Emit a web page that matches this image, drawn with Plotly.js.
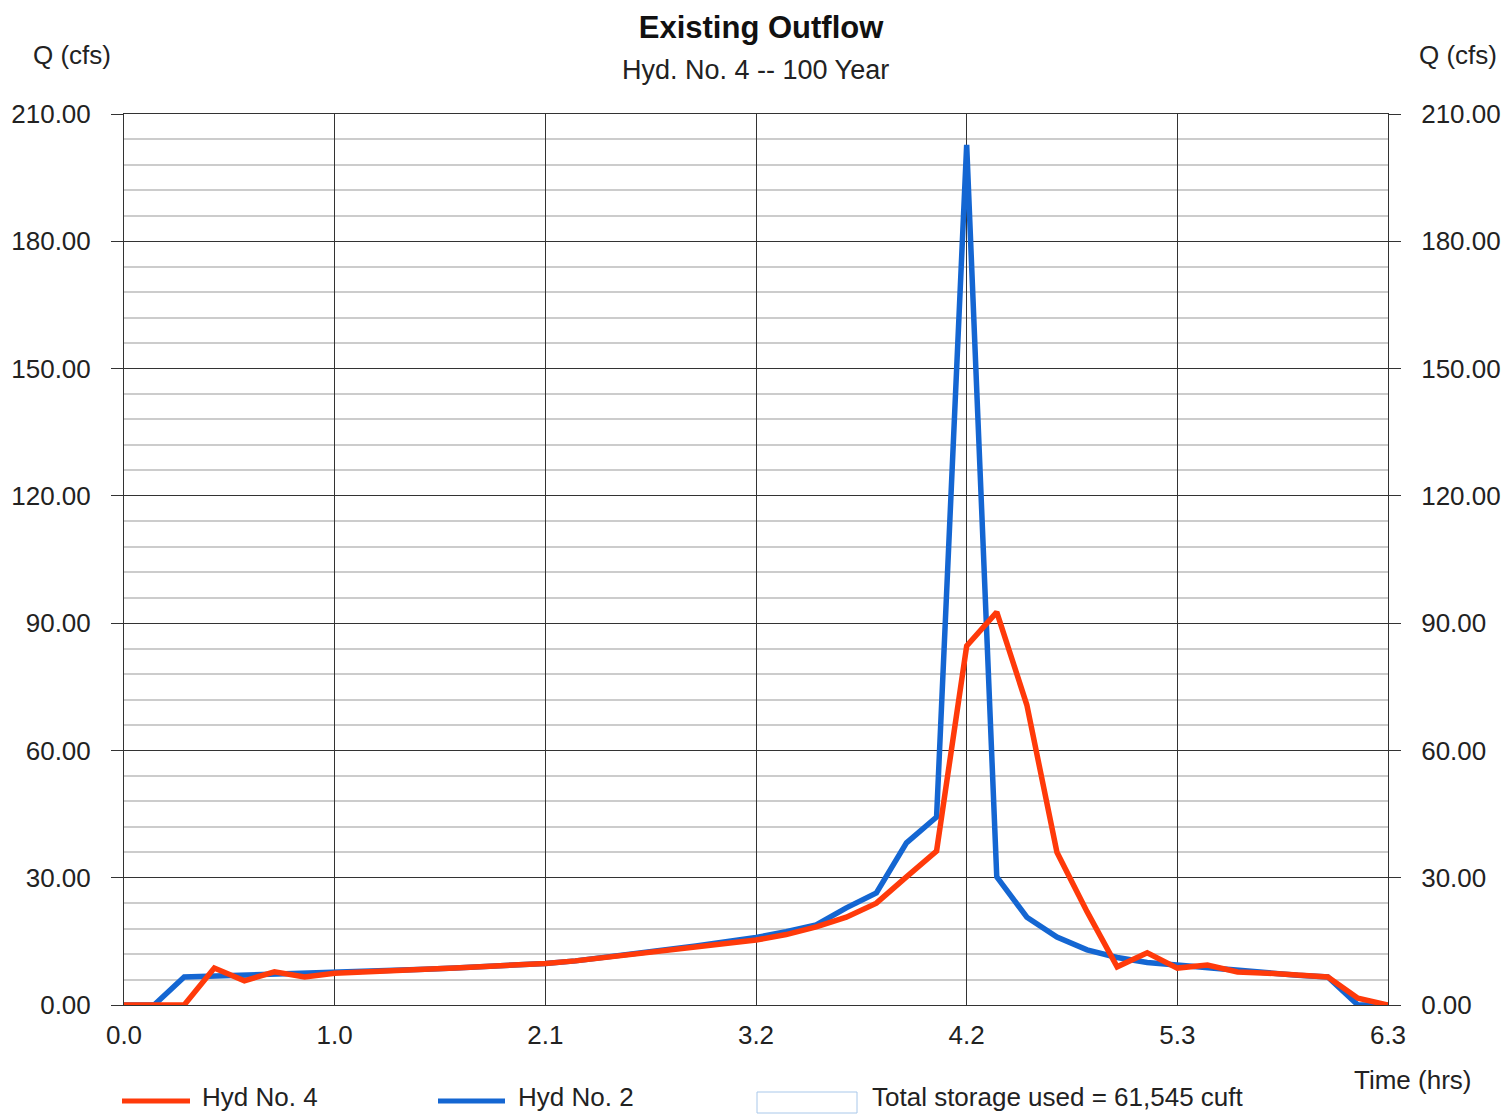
<!DOCTYPE html>
<html>
<head>
<meta charset="utf-8">
<script src="https://cdn.plot.ly/plotly-3.0.1.min.js"></script>
<style>
html,body{margin:0;padding:0;background:#fff;}
#chart{width:1502px;height:1114px;}
</style>
</head>
<body>
<div id="chart"></div>
<script>
// Time (hrs)
const timeHrs = [0.00,0.15,0.30,0.45,0.60,0.75,0.90,1.05,1.20,1.35,1.50,1.65,1.80,1.95,2.10,2.25,2.40,2.55,2.70,2.85,3.00,3.15,3.30,3.45,3.60,3.75,3.90,4.05,4.20,4.35,4.50,4.65,4.80,4.95,5.10,5.25,5.40,5.55,5.70,5.85,6.00,6.15,6.30];
// Hyd No. 4 (outflow), cfs
const hyd4 = [0,0,0,8.7,5.7,7.8,6.6,7.5,7.9,8.1,8.4,8.7,9.0,9.4,9.8,10.4,11.2,11.9,12.7,13.6,14.4,15.3,16.6,18.4,20.7,24.0,30.2,36.3,84.6,92.6,70.7,36.0,22.0,9.0,12.3,8.7,9.4,7.8,7.5,7.1,6.6,1.6,0];
// Hyd No. 2 (inflow), cfs
const hyd2 = [0,0,6.6,6.8,6.9,7.1,7.3,7.5,7.8,8.1,8.4,8.7,9.0,9.4,9.8,10.4,11.2,12.0,12.9,13.9,14.9,15.9,17.3,18.9,22.9,26.4,38.2,44.3,202.7,30.2,20.7,16.0,13.0,11.2,10.0,9.4,8.8,8.0,7.5,7.0,6.6,0,0];
// Tick labels
const xTickVals = [0, 1.05, 2.1, 3.15, 4.2, 5.25, 6.3];
const xTickText = ['0.0','1.0','2.1','3.2','4.2','5.3','6.3'];
const legendNames = ['Hyd No. 4','Hyd No. 2','Total storage used = 61,545 cuft'];

const FONT = 'Liberation Sans, Arial, Helvetica, sans-serif';
const RED = '#ff3a0a';
const BLUE = '#1466d2';
const W = 1502, H = 1114, L = 124, R = 1388, T = 114, B = 1005;
const px = v => (v - L) / (R - L);
const py = v => (B - v) / (B - T);

const traces = [
  {x: timeHrs, y: hyd2, name: legendNames[1], type: 'scatter', mode: 'lines',
   line: {color: BLUE, width: 5.5}, yaxis: 'y', showlegend: false},
  {x: timeHrs, y: hyd4, name: legendNames[0], type: 'scatter', mode: 'lines',
   line: {color: RED, width: 5.5}, yaxis: 'y2', showlegend: false}
];

const yCommon = {
  range: [0, 210], dtick: 30, tick0: 0, tickformat: '.2f',
  ticks: 'outside', ticklen: 12, tickcolor: '#333', tickwidth: 1,
  tickfont: {family: FONT, size: 26, color: '#222'},
  ticklabelstandoff: 15, fixedrange: true
};

const layout = {
  width: W, height: H,
  paper_bgcolor: '#fff', plot_bgcolor: '#fff',
  margin: {l: L, r: W - R, t: T, b: H - B, pad: 0},
  showlegend: false,
  font: {family: FONT, color: '#111'},
  title: {text: '<b>Existing Outflow</b>', x: 757 / W, xanchor: 'center', xref: 'paper',
          y: 1 - 27 / H, yanchor: 'middle', yref: 'container',
          font: {family: FONT, size: 31, color: '#111'}},
  xaxis: {
    range: [0, 6.3], tickvals: xTickVals, ticktext: xTickText,
    showgrid: true, gridcolor: '#333', gridwidth: 1, zeroline: false,
    showline: true, linecolor: '#333', linewidth: 1, mirror: true,
    ticks: '', ticklabelstandoff: 7,
    tickfont: {family: FONT, size: 26, color: '#222'}, fixedrange: true
  },
  yaxis: Object.assign({}, yCommon, {
    side: 'left', showgrid: true, gridcolor: '#333', gridwidth: 1.2, zeroline: false,
    showline: true, linecolor: '#333', linewidth: 1, mirror: true,
    minor: {dtick: 6, tick0: 0, showgrid: true, gridcolor: '#cccccc', gridwidth: 2, ticks: ''}
  }),
  yaxis2: Object.assign({}, yCommon, {
    side: 'right', overlaying: 'y', showgrid: false, zeroline: false, showline: false
  }),
  annotations: [
    {text: 'Hyd. No. 4 -- 100 Year', xref: 'paper', yref: 'paper', x: px(755), y: py(70),
     xanchor: 'center', yanchor: 'middle', showarrow: false, font: {family: FONT, size: 27, color: '#222'}},
    {text: 'Q (cfs)', xref: 'paper', yref: 'paper', x: px(72), y: py(55),
     xanchor: 'center', yanchor: 'middle', showarrow: false, font: {family: FONT, size: 26, color: '#222'}},
    {text: 'Q (cfs)', xref: 'paper', yref: 'paper', x: px(1458), y: py(55),
     xanchor: 'center', yanchor: 'middle', showarrow: false, font: {family: FONT, size: 26, color: '#222'}},
    {text: 'Time (hrs)', xref: 'paper', yref: 'paper', x: px(1412), y: py(1080),
     xanchor: 'center', yanchor: 'middle', showarrow: false, font: {family: FONT, size: 26, color: '#222'}},
    {text: legendNames[0], xref: 'paper', yref: 'paper', x: px(200), y: py(1097),
     xanchor: 'left', yanchor: 'middle', showarrow: false, font: {family: FONT, size: 26, color: '#222'}},
    {text: legendNames[1], xref: 'paper', yref: 'paper', x: px(516), y: py(1097),
     xanchor: 'left', yanchor: 'middle', showarrow: false, font: {family: FONT, size: 26, color: '#222'}},
    {text: legendNames[2], xref: 'paper', yref: 'paper', x: px(870), y: py(1097),
     xanchor: 'left', yanchor: 'middle', showarrow: false, font: {family: FONT, size: 26, color: '#222'}}
  ],
  shapes: [
    {type: 'line', xref: 'paper', yref: 'paper', x0: px(122), x1: px(190), y0: py(1101), y1: py(1101),
     line: {color: RED, width: 5}},
    {type: 'line', xref: 'paper', yref: 'paper', x0: px(438), x1: px(505), y0: py(1101), y1: py(1101),
     line: {color: BLUE, width: 5}},
    {type: 'rect', xref: 'paper', yref: 'paper', x0: px(757), x1: px(857), y0: py(1092), y1: py(1113),
     line: {color: '#a9c8ea', width: 1}, fillcolor: 'rgba(255,255,255,0)'}
  ]
};

Plotly.newPlot('chart', traces, layout, {displayModeBar: false, staticPlot: true});
</script>
</body>
</html>
